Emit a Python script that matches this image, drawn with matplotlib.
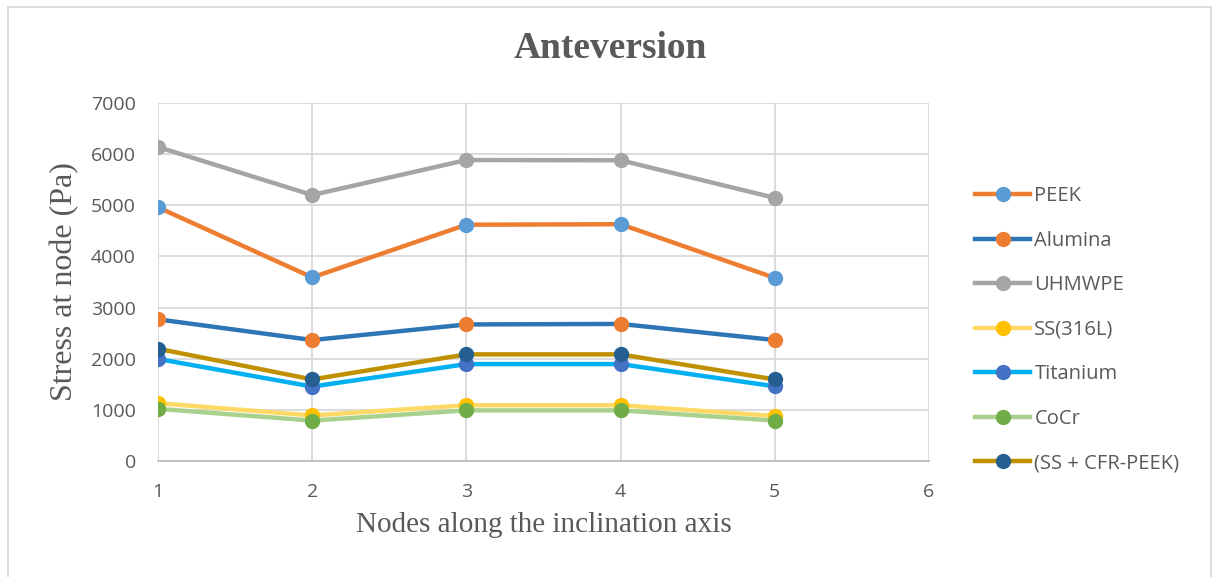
import matplotlib.pyplot as plt
from matplotlib.patches import Rectangle

nodes = [1, 2, 3, 4, 5]
series_names = ["PEEK", "Alumina", "UHMWPE", "SS(316L)", "Titanium", "CoCr", "(SS + CFR-PEEK)"]
peek = [4960, 3590, 4620, 4630, 3580]
alumina = [2770, 2365, 2670, 2680, 2365]
uhmwpe = [6140, 5200, 5885, 5880, 5145]
ss316l = [1130, 890, 1090, 1090, 880]
titanium = [1995, 1455, 1895, 1895, 1460]
cocr = [1020, 790, 990, 990, 790]
ss_cfr = [2195, 1595, 2085, 2085, 1595]
y_ticks = [0, 1000, 2000, 3000, 4000, 5000, 6000, 7000]
x_ticks = [1, 2, 3, 4, 5, 6]

all_values = [peek, alumina, uhmwpe, ss316l, titanium, cocr, ss_cfr]
line_colors = ["#ED7D31", "#2E75B6", "#A5A5A5", "#FFD966", "#00B0F0", "#A9D18E", "#BF9000"]
marker_colors = ["#5B9BD5", "#ED7D31", "#A5A5A5", "#FFC000", "#4472C4", "#70AD47", "#255E91"]

W, H = 1218, 577
fig = plt.figure(figsize=(W / 100, H / 100), dpi=100)
ax = fig.add_axes([158 / W, 1 - 461 / H, (929 - 158) / W, (461 - 103) / H])

# outer chart border (bottom edge runs off the image like the reference)
fig.patches.append(Rectangle((8 / W, -0.05), (1211 - 8) / W, 1.05 - 7 / H,
                             transform=fig.transFigure, fill=False,
                             edgecolor="#D9D9D9", linewidth=1.3))

for name, vals, lc, mc in zip(series_names, all_values, line_colors, marker_colors):
    ax.plot(nodes, vals, color=lc, linewidth=3.2, marker="o", markersize=10,
            markerfacecolor=mc, markeredgecolor=mc, label=name, zorder=3)

ax.set_xlim(1, 6)
ax.set_ylim(0, 7000)
ax.set_xticks(x_ticks)
ax.set_yticks(y_ticks)
ax.grid(True, color="#D9D9D9", linewidth=1.3, zorder=0)
ax.set_axisbelow(True)
for s in ["top", "right", "left"]:
    ax.spines[s].set_visible(False)
ax.spines["bottom"].set_color("#BFBFBF")
ax.spines["bottom"].set_linewidth(1.3)
ax.tick_params(length=0, labelsize=14, colors="#595959")
ax.tick_params(axis="y", pad=16)
ax.tick_params(axis="x", pad=16)
for lab in ax.get_xticklabels() + ax.get_yticklabels():
    lab.set_family("Open Sans")

ax.set_ylabel("Stress at node (Pa)", family="Liberation Serif", fontsize=23, color="#595959", labelpad=8)
ax.set_xlabel("Nodes along the inclination axis", family="Liberation Serif", fontsize=21,
              color="#595959", labelpad=8)
fig.text(610 / W, 1 - 48 / H, "Anteversion", family="Liberation Serif", fontsize=27,
         fontweight="bold", color="#595959", ha="center", va="center")

leg = fig.legend(loc="upper left", bbox_to_anchor=(975 / W, 1 - 186 / H), frameon=False,
                 prop={"family": "Open Sans", "size": 14.5}, labelspacing=1.22,
                 handlelength=2.75, handletextpad=0.2, borderpad=0, borderaxespad=0)
for t in leg.get_texts():
    t.set_color("#595959")

fig.savefig("out.png", dpi=100)
